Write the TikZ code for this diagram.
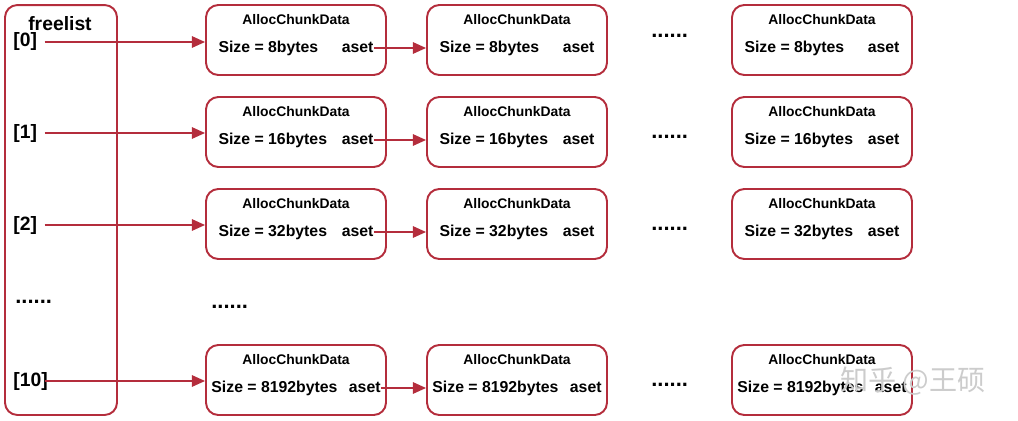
\documentclass[tikz,border=0pt]{standalone}
\usepackage{fontspec}
\setmainfont{Liberation Sans}
\newfontfamily\cjkfont{Noto Sans CJK SC}
\usetikzlibrary{arrows.meta,positioning}
\definecolor{listred}{RGB}{180,45,60}

\begin{document}
\begin{tikzpicture}[x=0.02cm,y=-0.02cm,
	list node/.style={draw=listred,line width=1.1pt,rounded corners=7pt,minimum width=2.24cm,minimum height=8.2cm},
	chunk node/.style={draw=listred,line width=1.1pt,rounded corners=7pt,minimum width=3.6cm,minimum height=1.4cm},
	headline/.style={font=\fontsize{7.9}{9}\selectfont\bfseries},
	sizeline/.style={inner sep=0pt,font=\fontsize{9}{11}\selectfont\bfseries},
	index node/.style={anchor=west,inner sep=0pt,text width=0.62cm,align=left,font=\fontsize{11}{13}\selectfont\bfseries},
	gap dots/.style={anchor=base west,inner sep=0pt,font=\fontsize{12.5}{14}\selectfont\bfseries},
	link/.style={draw=listred,line width=1pt,-{Triangle[length=7.5pt,width=6.5pt]}}]

	\useasboundingbox (0,0) rectangle (1018,420);

	\node[list node] (list) at (61,210) {};
	\node[font=\fontsize{11}{13}\selectfont\bfseries,anchor=base] (name) at (60,30) {freelist};

	\foreach \row/\y/\iy/\dy/\sz/\tw in {0/40/42/37/8bytes/9.8em, 1/132/133/138/16bytes/9.8em, 2/224/225/230/32bytes/9.8em, 10/380/381/386/8192bytes/10.7em} {
		\node[index node] (i\row) at (13,\iy) {[\row]};
		\foreach \col/\x in {1/296,2/517,3/822} {
			\node[chunk node] (b\row-\col) at (\x,\y) {};
			\node[headline] at (\x,\y-20) {AllocChunkData};
			\node[sizeline] (s\row-\col) at (\x,\y+8) {\hbox to \tw{Size = \sz\hfill aset}};
		}
		\node[gap dots] (dots\row) at (651,\dy) {......};

		\path
		(i\row.east) edge[link] (b\row-1.west |- i\row.east)
		(s\row-1.east) edge[link] (b\row-2.west |- s\row-1.east)
		;
	}

	\node[gap dots] (ldots) at (15,303) {......};
	\node[gap dots] (mdots) at (211,308) {......};

	\node[text=gray!40,font=\cjkfont\fontsize{16}{18}\selectfont] (mark) at (913,381) {知乎 @王硕};
\end{tikzpicture}
\end{document}
